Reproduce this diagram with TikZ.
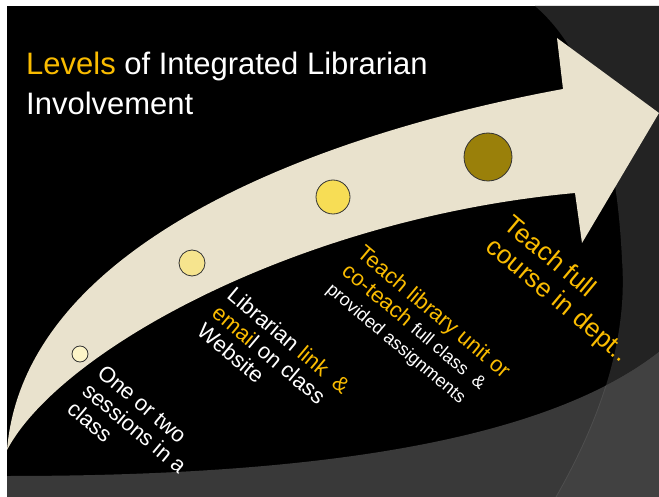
\documentclass[tikz,border=0pt]{standalone}
\usepackage{fontspec}
\setmainfont{Liberation Sans}

\definecolor{gold}{RGB}{250,188,0}
\definecolor{cream}{RGB}{233,226,205}
\definecolor{cornergray}{RGB}{35,35,35}
\definecolor{floorgray}{RGB}{57,57,57}
\definecolor{floorlight}{RGB}{65,65,65}
\definecolor{rimgray}{RGB}{78,78,78}
\definecolor{dotA}{RGB}{252,244,200}
\definecolor{dotB}{RGB}{246,228,142}
\definecolor{dotC}{RGB}{247,221,85}
\definecolor{dotD}{RGB}{154,128,10}

% background pieces
\def\cornerpath{(535,6) -- (659,6) -- (659,497) -- (556,497)
  .. controls (600,420) and (628,340) .. (622,260)
  .. controls (617,150) and (592,55) .. (535,6) -- cycle}
\def\floorpath{(7,476) .. controls (300,476) and (540,445) .. (659,352)
  -- (659,497) -- (7,497) -- cycle}

\begin{document}
\begin{tikzpicture}[x=1pt, y=-1pt,
    dot/.style={circle, draw=black!80, line width=0.8pt, inner sep=0pt},
    lbl/.style={rotate=-40, anchor=north west, inner sep=0pt, align=left,
      text=white, font=\fontsize{22}{23.5}\selectfont}
]
\useasboundingbox (0,0) rectangle (659,497);
\fill[white] (0,0) rectangle (659,497);
\fill[black] (7,6) rectangle (659,497);
\fill[cornergray] \cornerpath;
\fill[floorgray] \floorpath;
\begin{scope}
  \clip \floorpath;
  \fill[floorlight] \cornerpath;
  \draw[rimgray, line width=0.8pt] (556,497) .. controls (600,420) and (628,340) .. (622,260);
\end{scope}

% the curved arrow
\fill[cream] (7,450) .. controls (25,235) and (340,130) .. (563,89)
  -- (557,38) -- (659,113) -- (582,243) -- (575,193)
  .. controls (300,218) and (60,350) .. (7,450) -- cycle;

% level dots
\foreach \i/\x/\y/\d/\c in {1/80/354/16/dotA, 2/192/263/26/dotB,
    3/333/197/34/dotC, 4/488/157/48/dotD}
  \node[dot, fill=\c, minimum size=\d pt] (lv\i) at (\x,\y) {};

\node[anchor=north west, inner sep=0pt, align=left, text=white,
  font=\fontsize{31}{40}\selectfont] (title) at (26,52)
  {\textcolor{gold}{Levels} of Integrated Librarian\\Involvement};

\node[lbl] (one) at (106,363) {One or two\\sessions in a\\class};
\node[lbl] (link) at (236,285)
  {Librarian \textcolor{gold}{link}\ \ \textcolor{gold}{\&}\\
   \textcolor{gold}{emai}l on class\\Website};
\node[lbl, text=gold] (unit) at (366,243)
  {Teach library unit or\\
   co-teach {\color{white}\fontsize{18}{20}\selectfont full class \ \&}\\
   {\color{white}\fontsize{18}{20}\selectfont provided assignments}};
\node[lbl, text=gold, font=\fontsize{26}{28}\selectfont] (course) at (515,213)
  {Teach full\\course in dept..};
\end{tikzpicture}
\end{document}
